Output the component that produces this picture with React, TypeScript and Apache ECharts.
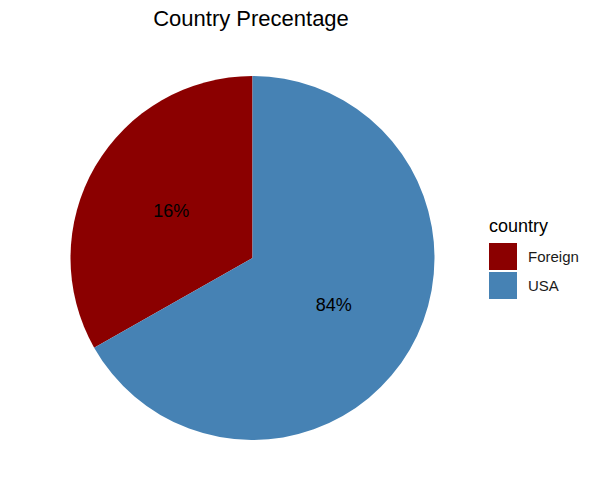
import React, { useEffect, useRef } from "react";
import * as echarts from "echarts";

const categories = ["Foreign", "USA"];
// share of the circle each slice covers, as drawn in the reference
const sliceShares = [33.2, 66.8];
// label texts printed on the slices in the reference
const labelTexts = ["16%", "84%"];
const colors = ["#8B0000", "#4682B4"];
const chartTitle = "Country Precentage";
const legendTitle = "country";

export default function App() {
  const ref = useRef<HTMLDivElement>(null);
  useEffect(() => {
    document.body.style.margin = "0";
    const chart = echarts.init(ref.current!, null, { renderer: "svg" });
    const font = "Liberation Sans, Arial, sans-serif";
    chart.setOption({
      animation: false,
      backgroundColor: "#ffffff",
      graphic: [
        {
          type: "text",
          x: 251,
          y: 18,
          style: {
            text: chartTitle,
            fontSize: 22,
            fontFamily: font,
            fill: "#000000",
            textAlign: "center",
            textVerticalAlign: "middle",
          },
        },
        {
          type: "text",
          x: 489,
          y: 226,
          style: {
            text: legendTitle,
            fontSize: 18,
            fontFamily: font,
            fill: "#000000",
            textAlign: "left",
            textVerticalAlign: "middle",
          },
        },
      ],
      legend: {
        orient: "vertical",
        left: 484,
        top: 238,
        itemWidth: 28,
        itemHeight: 27,
        itemGap: 2,
        icon: "rect",
        data: categories,
        textStyle: {
          fontSize: 15,
          fontFamily: font,
          color: "#1a1a1a",
          padding: [0, 0, 0, 6],
        },
      },
      series: [
        {
          type: "pie",
          center: [252.5, 258],
          radius: [0, 182],
          startAngle: 90,
          clockwise: false,
          silent: true,
          itemStyle: { borderWidth: 0 },
          label: {
            show: true,
            position: "inside",
            fontSize: 18,
            fontFamily: font,
            color: "#000000",
            formatter: (p: any) => labelTexts[p.dataIndex],
          },
          labelLine: { show: false },
          data: categories.map((c, i) => ({
            name: c,
            value: sliceShares[i],
            itemStyle: { color: colors[i] },
          })),
        },
      ],
    });
    return () => chart.dispose();
  }, []);
  return <div ref={ref} style={{ width: 607, height: 485 }} />;
}
